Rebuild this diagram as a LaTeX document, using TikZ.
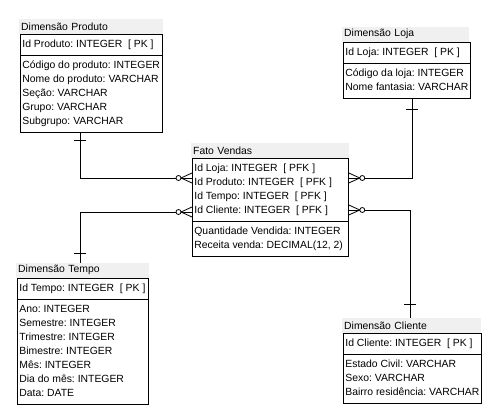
\documentclass[tikz,border=0pt]{standalone}
\usepackage{fontspec}
\setmainfont{Liberation Sans}
\usepackage{tikz}
\usetikzlibrary{
  positioning,
  calc,
  shapes.multipart
}

\begin{document}
\frenchspacing
\begin{tikzpicture}[
    x=1pt, y=-1pt,
    font=\fontsize{10.4}{14}\selectfont,
    ent/.style={
      rectangle split, rectangle split parts=2, draw=black, line width=0.8pt,
      align=left, rectangle split part align={left},
      inner xsep=2pt, inner ysep=3pt, anchor=north west
    },
    ttl/.style={
      fill=gray!12, minimum height=15pt, inner xsep=2pt, inner ysep=0pt,
      align=left, anchor=south west, xshift=-1pt
    },
    lnk/.style={draw=black, line width=0.8pt},
    crowfoot/.pic={
      \draw[lnk] (0,-5) -- (-11,0) -- (0,5);
      \draw[lnk, fill=white] (-13.5,0) circle (2.5pt);
    },
  ]
  \useasboundingbox (0,0) rectangle (501,417);

  %% --- tabelas ---
  \node[ent, minimum width=142pt] (produto) at (20,34)
    {\strut Id Produto: INTEGER\ \ [ PK ]
     \nodepart{two}\strut Código do produto: INTEGER\\Nome do produto: VARCHAR\\Seção: VARCHAR\\Grupo: VARCHAR\\Subgrupo: VARCHAR\strut};
  \node[ent, minimum width=125pt] (loja) at (343,42)
    {\strut Id Loja: INTEGER\ \ [ PK ]
     \nodepart{two}\strut Código da loja: INTEGER\\Nome fantasia: VARCHAR\strut};
  \node[ent, minimum width=156pt] (fato) at (192,158)
    {\strut Id Loja: INTEGER\ \ [ PFK ]\\Id Produto: INTEGER\ \ [ PFK ]\\Id Tempo: INTEGER\ \ [ PFK ]\\Id Cliente: INTEGER\ \ [ PFK ]\strut
     \nodepart{two}\strut Quantidade Vendida: INTEGER\\Receita venda: DECIMAL(12, 2)\strut};
  \node[ent, minimum width=131pt] (tempo) at (17,278)
    {\strut Id Tempo: INTEGER\ \ [ PK ]
     \nodepart{two}\strut Ano: INTEGER\\Semestre: INTEGER\\Trimestre: INTEGER\\Bimestre: INTEGER\\Mês: INTEGER\\Dia do mês: INTEGER\\Data: DATE\strut};
  \node[ent, minimum width=137pt] (cliente) at (343,333)
    {\strut Id Cliente: INTEGER\ \ [ PK ]
     \nodepart{two}\strut Estado Civil: VARCHAR\\Sexo: VARCHAR\\Bairro residência: VARCHAR\strut};

  %% --- titulos ---
  \node[ttl, text width=140pt] (produtoT) at (produto.north west) {Dimensão Produto};
  \node[ttl, text width=123pt] (lojaT)    at (loja.north west)    {Dimensão Loja};
  \node[ttl, text width=154pt] (fatoT)    at (fato.north west)    {Fato Vendas};
  \node[ttl, text width=129pt] (tempoT)   at (tempo.north west)   {Dimensão Tempo};
  \node[ttl, text width=135pt] (clienteT) at (cliente.north west) {Dimensão Cliente};

  %% --- pontos de ligacao ---
  \coordinate (p1) at ($(produto.south west)+(60,0)$);
  \coordinate (l1) at ($(loja.south west)+(69,0)$);
  \coordinate (t1) at ($(tempoT.north west)+(64,0)$);
  \coordinate (c1) at ($(clienteT.north west)+(68,0)$);
  \coordinate (fl1) at ($(fato.north west)+(0,20)$);
  \coordinate (fl2) at ($(fato.north west)+(0,54)$);
  \coordinate (fr1) at ($(fato.north east)+(0,20)$);
  \coordinate (fr2) at ($(fato.north east)+(0,52)$);

  \draw[lnk] (p1) |- (fl1);
  \draw[lnk] (t1) |- (fl2);
  \draw[lnk] (l1) |- (fr1);
  \draw[lnk] (c1) |- (fr2);

  %% --- cardinalidade ---
  \draw[lnk] ($(p1)+(-6,8)$) -- ++(12,0);
  \draw[lnk] ($(l1)+(-6,11)$) -- ++(12,0);
  \draw[lnk] ($(t1)+(-6,-9)$) -- ++(12,0);
  \draw[lnk] ($(c1)+(-6,-13)$) -- ++(12,0);
  \pic at (fl1) {crowfoot};
  \pic at (fl2) {crowfoot};
  \pic[xscale=-1] at (fr1) {crowfoot};
  \pic[xscale=-1] at (fr2) {crowfoot};
\end{tikzpicture}
\end{document}
